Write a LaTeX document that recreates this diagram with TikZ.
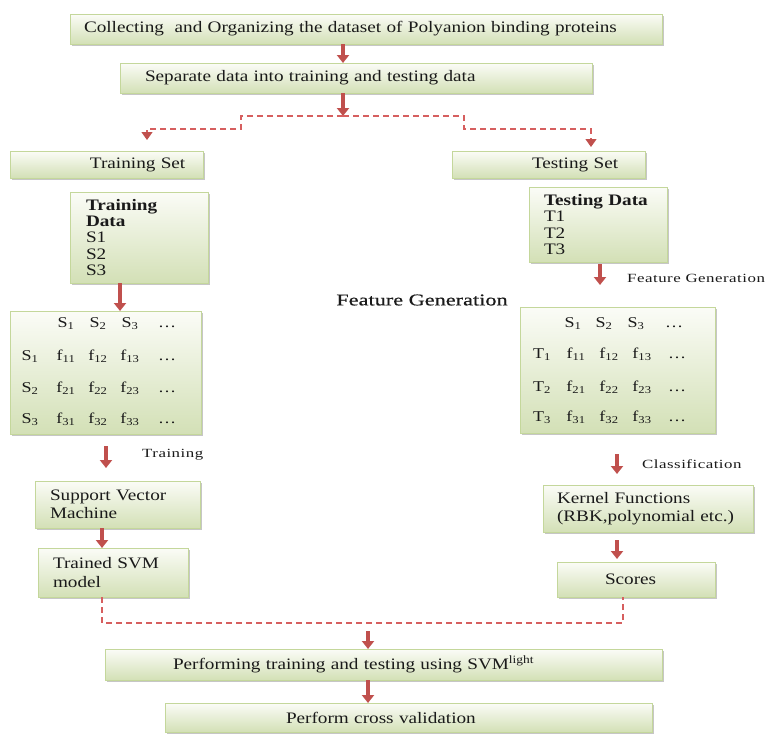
\documentclass[tikz,border=0pt]{standalone}
\usepackage{fontspec}
\setmainfont{Liberation Serif}[FakeStretch=1.2]
\newfontfamily\lblfont{Liberation Serif}[FakeStretch=1.35,LetterSpace=4]
\newfontfamily\midfont{Liberation Serif}[FakeStretch=1.35,FakeBold=0.6]
\usetikzlibrary{arrows.meta,shadows,calc}
\definecolor{arrowred}{HTML}{C0504D}
\definecolor{dashred}{HTML}{D65F5F}
\definecolor{boxborder}{HTML}{C4D79B}
\definecolor{boxtop}{HTML}{FBFCF7}
\definecolor{boxbot}{HTML}{D3E0B6}
\definecolor{txt}{HTML}{1A1A1A}
\tikzset{
  flowbox/.style={draw=boxborder, line width=0.8pt, top color=boxtop, bottom color=boxbot,
    drop shadow={shadow xshift=1.8pt, shadow yshift=-2.2pt, opacity=0.45},
    anchor=north west, outer sep=0pt, inner ysep=0pt, text=txt,
    font=\fontsize{16}{18.5}\selectfont},
  mtext/.style={anchor=base, inner sep=0pt, text=txt, font=\fontsize{15}{16}\selectfont},
  lbl/.style={anchor=west, inner sep=0pt, text=txt, font=\lblfont\fontsize{12.5}{14}\selectfont},
  solidarrow/.style={draw=arrowred, line width=3.5pt, -{Triangle[width=12pt,length=8pt]}},
  dashline/.style={draw=dashred, line width=1.3pt, dash pattern=on 6pt off 4pt},
  dashtip/.style={-{Triangle[width=11pt,length=8pt,fill=arrowred,color=arrowred]}},
}
\begin{document}
\begin{tikzpicture}[x=1pt,y=-1pt]
\useasboundingbox (0,0) rectangle (769,736);
% boxes
\node[flowbox, minimum height=30pt, text width=564pt, inner xsep=14pt, align=left] (b1) at (70,14)
  {Collecting \ and Organizing the dataset of Polyanion binding proteins};
\node[flowbox, minimum height=30pt, text width=422pt, inner xsep=25pt, align=left] (b2) at (120,63)
  {Separate data into training and testing data};
\node[flowbox, minimum height=27pt, text width=193pt, inner xsep=0pt, align=left] (trainset) at (10,151)
  {\hspace*{80pt}Training Set};
\node[flowbox, minimum height=27pt, text width=193pt, inner xsep=0pt, align=left] (testset) at (452,151)
  {\hspace*{80pt}Testing Set};
\node[flowbox, minimum height=91pt, text width=106pt, inner xsep=16pt, align=left,
  font=\fontsize{16}{16.3}\selectfont] (traindata) at (70,192)
  {\textbf{Training}\\\textbf{Data}\\S1\\S2\\S3};
\node[flowbox, minimum height=75pt, text width=108pt, inner xsep=15pt, align=left,
  font=\fontsize{16}{16.4}\selectfont] (testdata) at (529,187)
  {\textbf{Testing Data}\\T1\\T2\\T3};
\node[flowbox, minimum width=191pt, minimum height=123pt] (leftmat) at (10,311) {};
\node[flowbox, minimum width=195pt, minimum height=126pt] (rightmat) at (520,307) {};
\node[flowbox, minimum height=47pt, text width=135pt, inner xsep=15pt, align=left] (svm) at (35,481)
  {Support Vector\\Machine};
\node[flowbox, minimum height=47pt, text width=182pt, inner xsep=14pt, align=left] (kernel) at (543,485)
  {Kernel Functions\\(RBK,polynomial etc.)};
\node[flowbox, minimum height=49pt, text width=120pt, inner xsep=15pt, align=left] (trained) at (38,548)
  {Trained SVM\\model};
\node[flowbox, minimum height=35pt, text width=158pt, inner xsep=0pt, align=left] (scores) at (557,562)
  {\hspace*{48pt}Scores};
\node[flowbox, minimum height=31pt, text width=421pt, inner xsep=68pt, align=left] (perf) at (105,649)
  {Performing training and testing using SVM\textsuperscript{light}};
\node[flowbox, minimum height=29pt, text width=245pt, inner xsep=121pt, align=left] (cross) at (165,703)
  {Perform cross validation};
% matrix entries (left)
\foreach \c/\x in {1/66,2/98,3/130}
  \node[mtext] (lm-0-\c) at (\x,327) {S\textsubscript{\c}};
\node[mtext] (lm-0-4) at (167,327) {\dots};
\foreach \r/\y in {1/360,2/392,3/423} {
  \node[mtext] (lm-\r-0) at (30,\y) {S\textsubscript{\r}};
  \foreach \c/\x in {1/66,2/98,3/130}
    \node[mtext] (lm-\r-\c) at (\x,\y) {f\textsubscript{\r\c}};
  \node[mtext] (lm-\r-4) at (167,\y) {\dots};
}
% matrix entries (right)
\foreach \c/\x in {1/573,2/604,3/636}
  \node[mtext] (rm-0-\c) at (\x,327) {S\textsubscript{\c}};
\node[mtext] (rm-0-4) at (674,327) {\dots};
\foreach \r/\y in {1/358,2/391,3/421} {
  \node[mtext] (rm-\r-0) at (542,\y) {T\textsubscript{\r}};
  \foreach \c/\x in {1/576,2/609,3/642}
    \node[mtext] (rm-\r-\c) at (\x,\y) {f\textsubscript{\r\c}};
  \node[mtext] (rm-\r-4) at (677,\y) {\dots};
}
% labels
\node[lbl] (fgright) at (627,278) {Feature Generation};
\node[anchor=center, inner sep=0pt, text=txt, font=\midfont\fontsize{16.5}{18}\selectfont] (fgmid) at (422,300) {Feature Generation};
\node[lbl] (lbltrain) at (142,455) {Training};
\node[lbl] (lblclass) at (642,464) {Classification};
% coordinates
\coordinate (xa) at (343,0);
\coordinate (split) at (343,116);
\coordinate (lend) at (147,140);
\coordinate (rend) at (591,147);
\coordinate (xb) at (120,0);
\coordinate (fgtop) at (600,264);
\coordinate (fgbot) at (600,285);
\coordinate (trtop) at (106,446);
\coordinate (trbot) at (106,468);
\coordinate (cltop) at (617,454);
\coordinate (clbot) at (617,474);
\coordinate (xs) at (102,0);
\coordinate (xk) at (617,0);
\coordinate (merge) at (368,631);
\coordinate (xm) at (368,0);
% solid arrows
\draw[solidarrow] (b1.south -| xa) -- (b2.north -| xa);
\draw[solidarrow] (b2.south -| xa) -- (split);
\draw[solidarrow] (traindata.south -| xb) -- (leftmat.north -| xb);
\draw[solidarrow] (fgtop) -- (fgbot);
\draw[solidarrow] (trtop) -- (trbot);
\draw[solidarrow] (cltop) -- (clbot);
\draw[solidarrow] (svm.south -| xs) -- (trained.north -| xs);
\draw[solidarrow, shorten <=8pt, shorten >=3pt] (kernel.south -| xk) -- (scores.north -| xk);
\draw[solidarrow] (merge) -- (perf.north -| xm);
\draw[solidarrow] (perf.south -| xm) -- (cross.north -| xm);
% dashed splits
\draw[dashline, dashtip] (split) -| (241,129) -| (lend);
\draw[dashline, dashtip] (split) -| (464,129) -| (rend);
\draw[dashline] (trained.south -| xs) |- ($(scores.south west)+(66,26)$) -- ($(scores.south west)+(66,0)$);
\end{tikzpicture}
\end{document}
